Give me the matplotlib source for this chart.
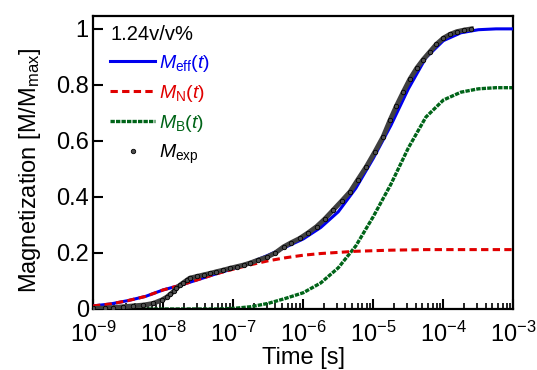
import numpy as np
import matplotlib.pyplot as plt
from matplotlib.ticker import FuncFormatter, FixedLocator

plt.rcParams['font.family'] = ['Liberation Sans', 'DejaVu Sans']
plt.rcParams['mathtext.fontset'] = 'custom'
plt.rcParams['mathtext.rm'] = 'Liberation Sans'
plt.rcParams['mathtext.it'] = 'Liberation Sans:italic'
plt.rcParams['mathtext.default'] = 'regular'

# -----------------------
# DATA
# -----------------------
# model curves, log10(time)
model_logt = [-9.0, -8.75, -8.5, -8.25, -8.0, -7.75, -7.5, -7.25, -7.0, -6.75,
              -6.5, -6.25, -6.0, -5.75, -5.5, -5.25, -5.0, -4.75, -4.5, -4.25,
              -4.0, -3.75, -3.5, -3.25, -3.0]
m_neel = [0.011, 0.018, 0.030, 0.045, 0.068, 0.085, 0.105, 0.125, 0.142, 0.158,
          0.172, 0.183, 0.192, 0.198, 0.202, 0.206, 0.208, 0.210, 0.211, 0.212,
          0.212, 0.212, 0.212, 0.212, 0.212]
m_brown = [0.0, 0.0, 0.0, 0.0, 0.0, 0.0, 0.0, 0.0, 0.002, 0.008,
           0.020, 0.038, 0.058, 0.093, 0.147, 0.225, 0.330, 0.445, 0.575, 0.685,
           0.746, 0.774, 0.786, 0.790, 0.790]
m_eff = [0.011, 0.018, 0.030, 0.045, 0.068, 0.085, 0.105, 0.125, 0.144, 0.166,
         0.192, 0.221, 0.250, 0.291, 0.347, 0.431, 0.538, 0.655, 0.786, 0.897,
         0.958, 0.986, 0.997, 1.000, 1.000]

# experimental points
exp_logt = [-9.0, -8.83, -8.71, -8.57, -8.43, -8.28, -8.14, -8.02, -7.95, -7.90,
            -7.85, -7.81, -7.76, -7.71, -7.66, -7.62, -7.52, -7.42, -7.33, -7.24,
            -7.14, -7.05, -6.95, -6.85, -6.76, -6.64, -6.52, -6.40, -6.28, -6.17,
            -6.05, -5.93, -5.81, -5.69, -5.57, -5.45, -5.33, -5.22, -5.10, -4.98,
            -4.86, -4.76, -4.67, -4.57, -4.48, -4.38, -4.29, -4.19, -4.10, -4.00,
            -3.91, -3.81, -3.70, -3.60]
m_exp = [0.002, 0.003, 0.005, 0.008, 0.011, 0.014, 0.020, 0.032, 0.042, 0.052,
         0.063, 0.074, 0.085, 0.094, 0.103, 0.110, 0.116, 0.122, 0.127, 0.133,
         0.139, 0.145, 0.151, 0.157, 0.164, 0.175, 0.185, 0.200, 0.222, 0.237,
         0.252, 0.272, 0.294, 0.322, 0.354, 0.386, 0.419, 0.462, 0.508, 0.560,
         0.615, 0.675, 0.725, 0.776, 0.820, 0.860, 0.890, 0.919, 0.945, 0.967,
         0.980, 0.990, 0.996, 1.000]

# axis ticks
x_decades = [-9, -8, -7, -6, -5, -4, -3]
y_ticks = [0, 0.2, 0.4, 0.6, 0.8, 1.0]

t_model = 10.0 ** np.array(model_logt)
t_exp = 10.0 ** np.array(exp_logt)

# -----------------------
# PLOT
# -----------------------
fig = plt.figure(figsize=(5.37, 3.70), dpi=100)
ax = fig.add_axes([0.1732, 0.1649, 0.7830, 0.7919])

ax.plot(t_model, m_brown, color='#006418', lw=2.4, ls=(0, (1.3, 0.35)),
        label=r'$\mathit{M}_{\mathrm{B}}(\mathit{t})$', zorder=2)
ax.plot(t_model, m_eff, color='#0000ee', lw=2.2,
        label=r'$\mathit{M}_{\mathrm{eff}}(\mathit{t})$', zorder=3)
ax.plot(t_model, m_neel, color='#e00000', lw=2.2, ls=(0, (2.4, 1.4)),
        label=r'$\mathit{M}_{\mathrm{N}}(\mathit{t})$', zorder=4)
ax.plot(t_exp, m_exp, color='#404040', lw=3.5, zorder=5)
ax.plot(t_exp, m_exp, ls='none', marker='o', ms=3.2, mfc='#505050',
        mec='black', mew=0.6, zorder=6,
        label=r'$\mathit{M}_{\mathrm{exp}}$')

ax.set_xscale('log')
ax.set_xlim(1e-9, 1e-3)
ax.set_ylim(0, 1.046)

major = [10.0 ** d for d in x_decades]
minor = [k * 10.0 ** d for d in x_decades[:-1] for k in range(2, 10)]
ax.xaxis.set_major_locator(FixedLocator(major))
ax.xaxis.set_minor_locator(FixedLocator(minor))
ax.xaxis.set_major_formatter(FuncFormatter(lambda v, p: r'$10^{%d}$' % round(np.log10(v))))
ax.xaxis.set_minor_formatter(FuncFormatter(lambda v, p: ''))
ax.set_yticks(y_ticks)
ax.yaxis.set_major_formatter(FuncFormatter(lambda v, p: '%g' % v))

ax.tick_params(axis='both', which='major', direction='in', length=7, width=1.5,
               labelsize=17, top=False, right=False)
ax.tick_params(axis='x', which='minor', direction='in', length=4, width=1.2,
               top=False)
ax.tick_params(axis='y', which='minor', left=False, right=False)
ax.tick_params(axis='x', which='major', pad=9.5)
ax.tick_params(axis='y', which='major', pad=3)
for s in ax.spines.values():
    s.set_linewidth(1.6)

ax.set_xlabel('Time [s]', fontsize=17, labelpad=0)
ax.set_ylabel(r'Magnetization [M/M$_{\mathrm{max}}$]', fontsize=17)
ax.yaxis.set_label_coords(-0.12, 0.474)

# legend order like the reference
h, l = ax.get_legend_handles_labels()
order = [1, 2, 0, 3]
leg = ax.legend([h[i] for i in order], [l[i] for i in order], loc='upper left',
                bbox_to_anchor=(0.027, 0.988), borderaxespad=0.0,
                title='1.24v/v%', title_fontsize=14.5, fontsize=14, frameon=False,
                handlelength=2.3, handletextpad=0.2, labelspacing=0.45,
                borderpad=0.3)
leg._legend_box.align = 'left'
for txt, hd in zip(leg.get_texts(), [h[i] for i in order]):
    c = hd.get_color() if hd.get_linestyle() != 'None' else 'black'
    txt.set_color(c)

plt.savefig('out.png', dpi=100)
